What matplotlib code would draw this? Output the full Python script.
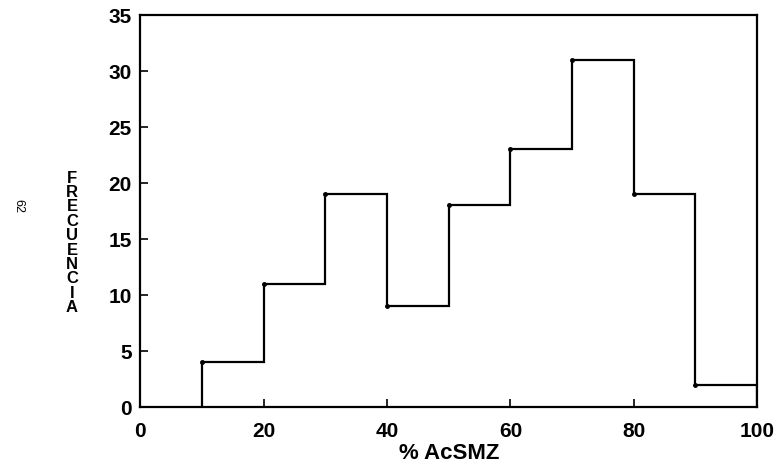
import matplotlib.pyplot as plt

FONT: str = "Liberation Sans"

bin_edges = [10, 20, 30, 40, 50, 60, 70, 80, 90, 100]
counts = [4, 11, 19, 9, 18, 23, 31, 19, 2]
x_ticks = [0, 20, 40, 60, 80, 100]
y_ticks = [0, 5, 10, 15, 20, 25, 30, 35]


def main() -> None:
    fig = plt.figure(figsize=(7.75, 4.69), dpi=100)
    ax = fig.add_axes([0.181, 0.132, 0.796, 0.836])

    ax.stairs(counts, bin_edges, color="black", linewidth=1.6, baseline=0)
    ax.plot(bin_edges[:-1], counts, "o", color="black", markersize=2.5)

    ax.set_xlim(0, 100)
    ax.set_ylim(0, 35)
    ax.set_xticks(x_ticks)
    ax.set_yticks(y_ticks)
    ax.tick_params(direction="in", length=6, width=1.2, labelsize=15)
    ax.tick_params(axis="x", pad=11)
    ax.tick_params(axis="y", pad=6)
    for lab in ax.get_xticklabels() + ax.get_yticklabels():
        lab.set_fontfamily(FONT)
        lab.set_fontweight("bold")
    for sp in ax.spines.values():
        sp.set_linewidth(1.6)

    ax.set_xlabel("% AcSMZ", fontsize=16, fontfamily=FONT, fontweight="bold", labelpad=1)
    fig.text(0.093, 0.482, "\n".join("FRECUENCIA"), fontsize=12, fontfamily=FONT,
             fontweight="bold", ha="center", va="center", linespacing=0.95)
    fig.text(0.024, 0.56, "62", fontsize=9, fontfamily=FONT, rotation=270,
             ha="center", va="center")

    fig.savefig("out.png", dpi=100)


if __name__ == "__main__":
    main()
